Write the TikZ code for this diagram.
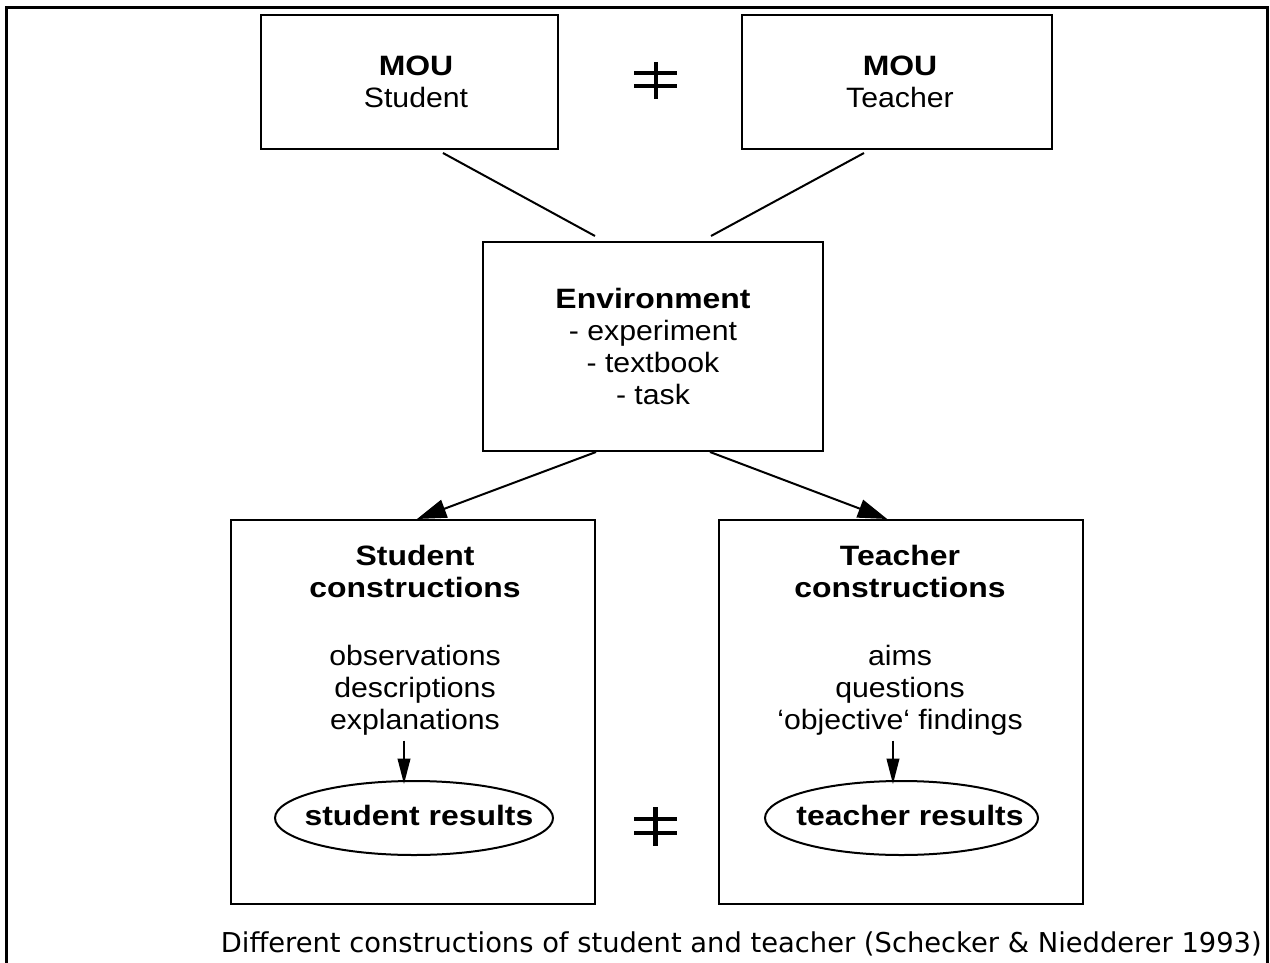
\documentclass[tikz,border=0pt]{standalone}
\usepackage{fontspec}
\setmainfont{Liberation Sans}[FakeStretch=1.08,BoldFeatures={FakeStretch=1.14}]
\newfontfamily\capfont{DejaVu Sans}
\usetikzlibrary{arrows.meta,shapes.geometric,calc}
\begin{document}
\begin{tikzpicture}[x=0.75pt,y=-0.75pt,
  box/.style={draw,line width=1.5pt,inner sep=0pt},
  txt/.style={align=center,font=\fontsize{21pt}{24pt}\selectfont,inner sep=0pt},
  res/.style={draw,ellipse,line width=1.5pt,inner sep=0pt,minimum height=55.5pt},
  restxt/.style={inner sep=0pt,font=\bfseries\fontsize{21pt}{24pt}\selectfont},
  conn/.style={line width=1.5pt},
  bigarrow/.style={conn,-{Triangle[length=22pt,width=14pt]}},
  smallarrow/.style={line width=1.2pt,-{Triangle[length=19pt,width=9.5pt]}},
  neq/.style={line width=3.6pt}]
\useasboundingbox (0,0) rectangle (1270,963);
\draw[line width=2.25pt] (6.5,963) -- (6.5,7.5) -- (1267.5,7.5) -- (1267.5,963);

\node[box,minimum width=222.75pt,minimum height=100.5pt] (mous) at (409.5,82) {};
\node[txt] (moust) at (416,82) {\textbf{MOU}\\Student};
\node[box,minimum width=232.5pt,minimum height=100.5pt] (mout) at (897,82) {};
\node[txt] (moutt) at (900,82) {\textbf{MOU}\\Teacher};

\node[box,txt,minimum width=255pt,minimum height=156.75pt] (env) at (653,346.5) {\textbf{Environment}\\- experiment\\- textbook\\- task};

\node[box,minimum width=273pt,minimum height=288pt] (sc) at (413,712) {};
\node[box,minimum width=273pt,minimum height=288pt] (tc) at (900.5,712) {};

\node[txt] (sct) at (415,640) {\textbf{Student}\\\textbf{constructions}\\[27pt]observations\\descriptions\\explanations};
\node[txt] (tct) at (900,640) {\textbf{Teacher}\\\textbf{constructions}\\[27pt]aims\\questions\\‘objective‘ findings};

\node[res,minimum width=208.5pt] (sr) at (414,818) {};
\node[restxt] (srt) at (419,815) {student results};
\node[res,minimum width=204.75pt] (tr) at (901.5,818) {};
\node[restxt] (trt) at (910,815) {teacher results};

\draw[conn] ([xshift=25.1pt,yshift=-2.25pt]mous.south) -- ([xshift=-43.5pt,yshift=3.75pt]env.north);
\draw[conn] ([xshift=-24.75pt,yshift=-2.25pt]mout.south) -- ([xshift=43.5pt,yshift=3.75pt]env.north);

\draw[bigarrow] ([xshift=-42.75pt]env.south) -- ([xshift=3pt]sc.north);
\draw[bigarrow] ([xshift=42.75pt]env.south) -- ([xshift=-10pt]tc.north);

\draw[smallarrow] ([xshift=-7.5pt,yshift=-4pt]sct.south -| sr.north) -- ([xshift=-7.5pt,yshift=-3pt]sr.north);
\draw[smallarrow] ([xshift=-6.4pt,yshift=-4pt]tct.south -| tr.north) -- ([xshift=-6.4pt,yshift=-3pt]tr.north);

\draw[neq] (634,73) -- (677,73) (634,86) -- (677,86) (656,62) -- (656,99);
\draw[neq] (634,819) -- (677,819) (634,833) -- (677,833) (655.5,807) -- (655.5,846);

\node[anchor=base east,font=\capfont\fontsize{20.5pt}{24pt}\selectfont,inner sep=0pt] (cap) at (1262,952) {Different constructions of student and teacher (Schecker \& Niedderer 1993)};
\end{tikzpicture}
\end{document}
